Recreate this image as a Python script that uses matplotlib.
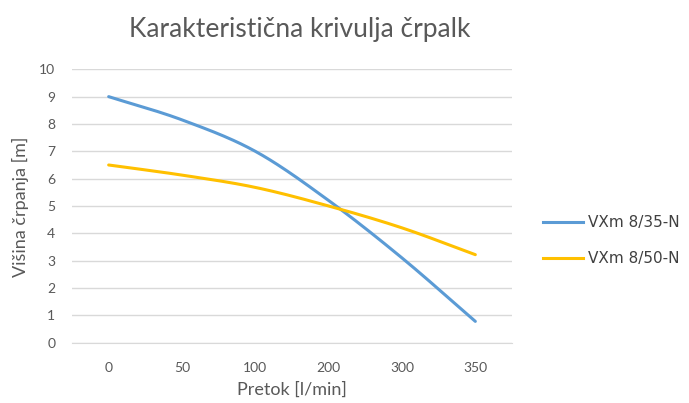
import numpy as np
import matplotlib
matplotlib.use("Agg")
import matplotlib.pyplot as plt
from matplotlib.lines import Line2D

categories = ['0', '50', '100', '200', '300', '350']
vxm_35 = [9.0, 8.15, 7.0, 5.2, 3.1, 0.78]
vxm_50 = [6.5, 6.13, 5.68, 5.0, 4.2, 3.22]
series_names = ['VXm 8/35-N', 'VXm 8/50-N']
colors = ['#5B9BD5', '#FFC000']

plt.rcParams['font.family'] = ['Lato', 'DejaVu Sans']
grey = '#595959'


def smooth(xs, ys, n=30):
    # Catmull-Rom style smoothing through the points (Excel "smoothed line")
    xs = np.asarray(xs, float)
    ys = np.asarray(ys, float)
    px = np.concatenate([[2 * xs[0] - xs[1]], xs, [2 * xs[-1] - xs[-2]]])
    py = np.concatenate([[2 * ys[0] - ys[1]], ys, [2 * ys[-1] - ys[-2]]])
    ox, oy = [], []
    for i in range(1, len(px) - 2):
        t = np.linspace(0, 1, n, endpoint=(i == len(px) - 3))
        for arr, out in ((px, ox), (py, oy)):
            p0, p1, p2, p3 = arr[i - 1], arr[i], arr[i + 1], arr[i + 2]
            out.extend(0.5 * ((2 * p1) + (-p0 + p2) * t
                              + (2 * p0 - 5 * p1 + 4 * p2 - p3) * t ** 2
                              + (-p0 + 3 * p1 - 3 * p2 + p3) * t ** 3))
    return np.array(ox), np.array(oy)


fig = plt.figure(figsize=(6.89, 4.03), dpi=100)
ax = fig.add_axes([72 / 689, 1 - 342.7 / 403, 440 / 689, 273.4 / 403])

xpos = np.arange(len(categories))
for vals, name, c in zip([vxm_35, vxm_50], series_names, colors):
    sx, sy = smooth(xpos, vals)
    ax.plot(sx, sy, color=c, lw=2.2, label=name, solid_capstyle='round')

ax.set_xlim(-0.5, len(categories) - 0.5)
ax.set_ylim(0, 10)
ax.set_yticks(range(0, 11))
ax.set_xticks(xpos)
ax.set_xticklabels(categories)
ax.grid(axis='y', color='#D9D9D9', lw=1)
ax.set_axisbelow(True)
for s in ['top', 'right', 'left']:
    ax.spines[s].set_visible(False)
ax.spines['bottom'].set_color('#D9D9D9')
ax.tick_params(axis='both', length=0, colors=grey, labelsize=10)
ax.tick_params(axis='x', pad=14)
ax.tick_params(axis='y', pad=12)

fig.text(292 / 689, 1 - 390 / 403, 'Pretok [l/min]', ha='center', va='center',
         color=grey, fontsize=13)
fig.text(20 / 689, 1 - 207 / 403, 'Višina črpanja [m]', ha='center', va='center',
         rotation=90, color=grey, fontsize=13)

fig.text(300 / 689, 1 - 29 / 403, 'Karakteristična krivulja črpalk',
         ha='center', va='center', color=grey, fontsize=19)

# legend, drawn manually at the reference position
for i, (name, c) in enumerate(zip(series_names, colors)):
    yy = 1 - (222 + 36 * i) / 403
    fig.add_artist(Line2D([543 / 689, 583 / 689], [yy, yy], color=c, lw=2.2,
                          transform=fig.transFigure))
    fig.text(588 / 689, yy, name, ha='left', va='center', color='#404040',
             fontsize=11, family=['DejaVu Sans'])

fig.savefig('out.png', dpi=100)
